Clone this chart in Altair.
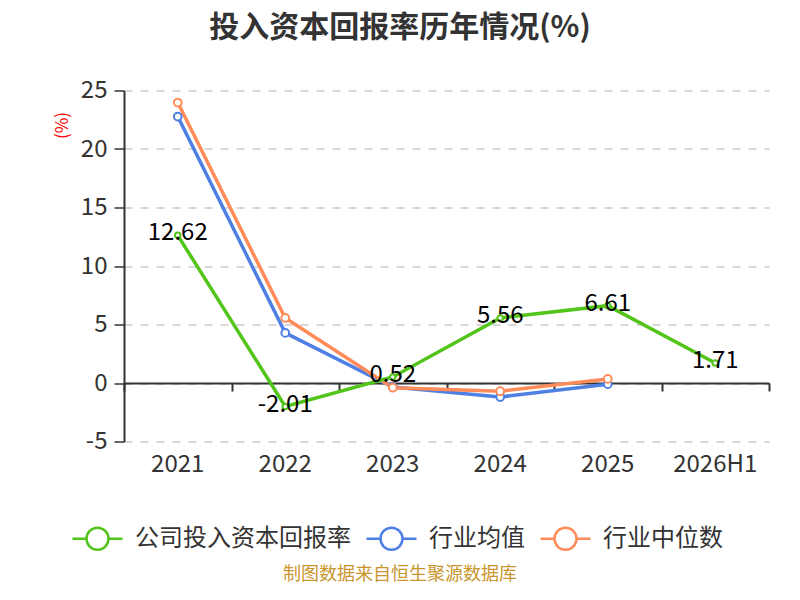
import altair as alt
import pandas as pd

years = ["2021", "2022", "2023", "2024", "2025", "2026H1"]
company = [12.62, -2.01, 0.52, 5.56, 6.61, 1.71]
ind_mean = [22.77, 4.28, -0.34, -1.20, -0.10]
ind_median = [23.97, 5.56, -0.40, -0.70, 0.35]
series_names = ["公司投入资本回报率", "行业均值", "行业中位数"]
colors = ["#52c41a", "#4e7fe3", "#ff8b5a"]
y_ticks = [-5, 0, 5, 10, 15, 20, 25]
title_text = "投入资本回报率历年情况(%)"
footer_text = "制图数据来自恒生聚源数据库"

rows = []
for name, vals in zip(series_names, [company, ind_mean, ind_median]):
    for yr, v in zip(years, vals):
        rows.append({"year": yr, "value": v, "series": name})
df = pd.DataFrame(rows)
df["label"] = df["value"].map(lambda v: f"{v:.2f}")

FONT = "Noto Sans CJK SC"
sym = "M-1,0L-0.44,0M0.44,0L1,0M-0.44,0A0.44,0.44,0,1,1,0.44,0A0.44,0.44,0,1,1,-0.44,0"

xscale = alt.Scale(type="band", domain=years, paddingInner=0, paddingOuter=0)
yscale = alt.Scale(domain=[-5, 25], nice=False, zero=False)
cscale = alt.Scale(domain=series_names, range=colors)

x_main = alt.X("year:N", sort=years, scale=xscale,
               axis=alt.Axis(title=None, orient="bottom", labelAngle=0, domain=False, ticks=False, grid=False,
                             labelFontSize=24, labelColor="#333", labelPadding=11, labelFont=FONT))
x_zero = alt.X("year:N", sort=years, scale=xscale,
               axis=alt.Axis(title=None, orient="bottom", labels=False, domain=True, domainColor="#333",
                             domainWidth=2, ticks=True, tickColor="#333", tickWidth=2, tickSize=8,
                             tickBand="extent", offset=-58.5, grid=False))
x_none = alt.X("year:N", sort=years, scale=xscale, axis=None)
y_enc = alt.Y("value:Q", scale=yscale,
              axis=alt.Axis(values=y_ticks, title="(%)", titleColor="red", titleFontSize=17,
                            titleFontWeight="normal", titleX=-62, titleY=34.5, titleAngle=270,
                            titleAlign="center", titleBaseline="middle", titleFont=FONT,
                            labelFontSize=24, labelColor="#333", labelPadding=7, labelFont=FONT,
                            labelExpr="toString(datum.value)",
                            tickSize=10, tickColor="#333", tickWidth=1.5,
                            domainColor="#333", domainWidth=2,
                            gridColor="#cccccc", gridDash=[8, 8], gridWidth=1.6))
color_enc = alt.Color("series:N", scale=cscale,
                      legend=alt.Legend(title=None, orient="none", direction="horizontal",
                                        legendX=-53, legendY=421.5, symbolType=sym, symbolSize=2500,
                                        symbolStrokeWidth=2.5, symbolFillColor="white",
                                        labelFontSize=24, labelColor="#333", labelFont=FONT,
                                        labelLimit=0, labelOffset=11, columnPadding=10, padding=0))

base = alt.Chart(df)
layers = []
# lines: blue, orange, then green on top
for name in [series_names[1], series_names[2], series_names[0]]:
    layers.append(base.transform_filter(alt.datum.series == name)
                  .mark_line(strokeWidth=3.5)
                  .encode(x=x_main if name == series_names[1] else x_none,
                          y=y_enc, color=color_enc))
for name, col, sz in [(series_names[1], colors[1], 60), (series_names[2], colors[2], 60), (series_names[0], colors[0], 30)]:
    layers.append(base.transform_filter(alt.datum.series == name)
                  .mark_point(shape="circle", filled=True, fill="white", stroke=col, strokeWidth=2,
                              size=sz, opacity=1)
                  .encode(x=x_none, y="value:Q"))
labels = (base.transform_filter(alt.datum.series == series_names[0])
          .mark_text(fontSize=24, color="black", baseline="middle", dy=-2, font=FONT)
          .encode(x=x_zero, y="value:Q", text="label:N"))
layers.append(labels)

footer = alt.Chart(pd.DataFrame({"t": [footer_text]})).mark_text(
    fontSize=18, color="#c8962d", baseline="middle", align="center", font=FONT
).encode(x=alt.value(276), y=alt.value(484), text="t:N")
layers.append(footer)

chart = alt.layer(*layers).resolve_axis(x="independent").properties(
    width=645, height=351,
    autosize=alt.AutoSizeParams(type="none"),
    padding={"left": 116, "top": 82.5, "right": 23, "bottom": 150.5},
    title=alt.TitleParams(title_text, fontSize=30, fontWeight="bold", color="#333", anchor="middle",
                          dx=-46.5, offset=36, font=FONT),
).configure(font=FONT).configure_view(stroke="transparent", strokeWidth=0)

chart.save("out.html", embed_options={"renderer": "svg", "actions": False})
